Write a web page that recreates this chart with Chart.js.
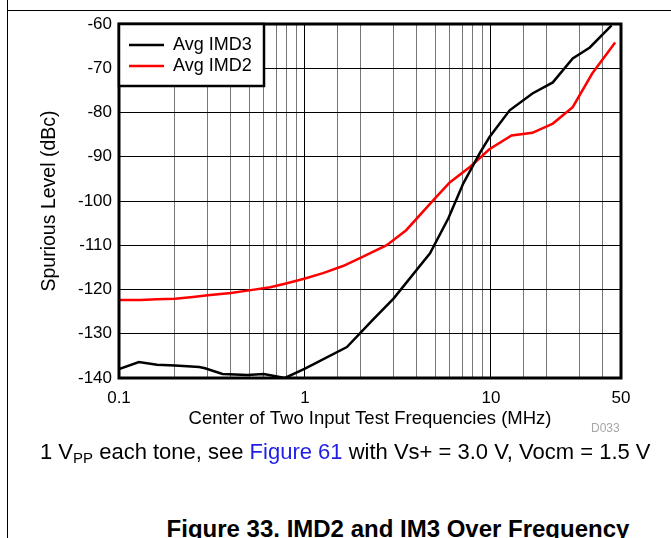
<!DOCTYPE html>
<html>
<head>
<meta charset="utf-8">
<script src="https://cdn.jsdelivr.net/npm/chart.js@4.4.0/dist/chart.umd.min.js"></script>
<style>
  body { margin: 0; background: #fff; font-family: Arial, "Liberation Sans", sans-serif; }
  #page { position: relative; width: 671px; height: 538px; overflow: hidden; }
  #frameLeft { position: absolute; left: 7px; top: 0; width: 1px; height: 538px; background: #000; }
  #frameTop { position: absolute; left: 7px; top: 10px; width: 664px; height: 1px; background: #000; }
  #chartBox { position: absolute; left: 0; top: 0; width: 671px; height: 440px; }
  #code { position: absolute; left: 591px; top: 421px; font-size: 12px; color: #a6a6a6; }
  #note { position: absolute; left: 40px; top: 439px; font-size: 22px; line-height: 26px; white-space: nowrap; }
  #note sub { font-size: 15px; vertical-align: -4px; line-height: 0; }
  #note .link { color: #1e1ee6; }
  #caption { position: absolute; left: 0; width: 796px; top: 517px; text-align: center; line-height: 24px;
             font-size: 24px; font-weight: bold; white-space: nowrap; }
</style>
</head>
<body>
<div id="page">
  <div id="frameLeft"></div>
  <div id="frameTop"></div>
  <div id="chartBox"><canvas id="imdChart"></canvas></div>
  <div id="code">D033</div>
  <div id="note">1 V<sub>PP</sub> each tone, see <span class="link">Figure 61</span> with Vs+ = 3.0 V, Vocm = 1.5 V</div>
  <div id="caption">Figure 33. IMD2 and IM3 Over Frequency</div>
</div>
<script>
// values (MHz, dBc)
const imd3Freq = [0.1, 0.128, 0.16, 0.2, 0.27, 0.29, 0.36, 0.49, 0.6, 0.78, 1.0, 1.68, 2.3, 3.0, 4.7, 5.9, 7.1, 8.7, 9.8, 12.6, 16.7, 21.5, 27.5, 34, 44.5];
const imd3 = [-138, -136.4, -137.0, -137.2, -137.5, -137.8, -139.1, -139.3, -139.1, -140, -137.9, -133, -127, -122, -111.8, -103.9, -96, -89.2, -85.6, -79.5, -75.7, -73.2, -67.8, -65.3, -60.3];

const imd2Freq = [0.1, 0.13, 0.16, 0.2, 0.25, 0.3, 0.4, 0.5, 0.65, 0.8, 1.0, 1.25, 1.6, 2.0, 2.75, 3.5, 4.9, 6.0, 7.7, 9.8, 12.9, 16.7, 21.5, 27.5, 35, 46.5];
const imd2 = [-122.4, -122.4, -122.2, -122.1, -121.7, -121.3, -120.8, -120.2, -119.5, -118.6, -117.5, -116.3, -114.7, -112.8, -110.0, -106.6, -99.8, -95.8, -92.3, -88.3, -85.2, -84.6, -82.5, -78.8, -71.2, -64.2];

const seriesNames = ['Avg IMD3', 'Avg IMD2'];
const seriesColors = ['#000000', '#ff0000'];
const xTickLabels = ['0.1', '1', '10', '50'];
const yRange = [-140, -60];
const yStep = 10;

function isDecade(v) {
    const l = Math.log10(v);
    return Math.abs(l - Math.round(l)) < 1e-6;
}

// box around the plot area
const framePlugin = {
    id: 'frame',
    afterDatasetsDraw(chart) {
        const a = chart.chartArea;
        const ctx = chart.ctx;
        ctx.save();
        ctx.strokeStyle = '#000';
        ctx.lineWidth = 3;
        ctx.strokeRect(a.left, a.top, a.right - a.left, a.bottom - a.top);
        ctx.restore();
    }
};

// legend box in the top left corner of the plot
const insideLegend = {
    id: 'insideLegend',
    afterDraw(chart) {
        const a = chart.chartArea;
        const ctx = chart.ctx;
        const w = 145, h = 62;
        ctx.save();
        ctx.fillStyle = '#fff';
        ctx.fillRect(a.left, a.top, w, h);
        ctx.strokeStyle = '#000';
        ctx.lineWidth = 2.5;
        ctx.strokeRect(a.left, a.top, w, h);
        ctx.font = '18px Arial, "Liberation Sans", sans-serif';
        ctx.textBaseline = 'middle';
        chart.data.datasets.forEach((ds, i) => {
            const y = a.top + 21 + i * 21;
            ctx.strokeStyle = ds.borderColor;
            ctx.lineWidth = 2.5;
            ctx.beginPath();
            ctx.moveTo(a.left + 10, y);
            ctx.lineTo(a.left + 45, y);
            ctx.stroke();
            ctx.fillStyle = '#000';
            ctx.fillText(ds.label, a.left + 54, y);
        });
        ctx.restore();
    }
};

function loadChart() {
    const ctx = document.getElementById('imdChart').getContext('2d');
    new Chart(ctx, {
        type: 'line',
        data: {
            datasets: [
                {
                    label: seriesNames[0],
                    data: imd3Freq.map((f, i) => ({ x: f, y: imd3[i] })),
                    borderColor: seriesColors[0],
                    borderWidth: 2.5
                },
                {
                    label: seriesNames[1],
                    data: imd2Freq.map((f, i) => ({ x: f, y: imd2[i] })),
                    borderColor: seriesColors[1],
                    borderWidth: 2.5
                }
            ]
        },
        options: {
            responsive: true,
            maintainAspectRatio: false,
            animation: false,
            events: [],
            elements: { point: { radius: 0 }, line: { tension: 0 } },
            layout: { padding: { left: 0, top: 24, right: 50, bottom: 0 } },
            plugins: { legend: { display: false }, tooltip: { enabled: false } },
            scales: {
                x: {
                    type: 'logarithmic',
                    min: 0.1,
                    max: 50,
                    border: { display: false },
                    grid: {
                        drawTicks: false,
                        lineWidth: 1,
                        color: c => (c.tick && isDecade(c.tick.value)) ? '#000' : '#777'
                    },
                    ticks: {
                        autoSkip: false,
                        maxRotation: 0,
                        padding: 10,
                        color: '#000',
                        font: { family: 'Arial, "Liberation Sans", sans-serif', size: 17 },
                        callback: v => {
                            const lbl = xTickLabels.find(t => Math.abs(Math.log10(+t) - Math.log10(v)) < 1e-6);
                            return lbl || '';
                        }
                    },
                    title: {
                        display: true,
                        text: 'Center of Two Input Test Frequencies (MHz)',
                        color: '#000',
                        font: { family: 'Arial, "Liberation Sans", sans-serif', size: 18.5 },
                        padding: { top: 0, bottom: 10 }
                    },
                    afterFit: s => { s.height = 62; }
                },
                y: {
                    min: yRange[0],
                    max: yRange[1],
                    border: { display: false },
                    grid: { drawTicks: false, lineWidth: 1, color: '#000' },
                    ticks: {
                        stepSize: yStep,
                        padding: 7,
                        color: '#000',
                        font: { family: 'Arial, "Liberation Sans", sans-serif', size: 17 }
                    },
                    title: {
                        display: true,
                        text: 'Spurious Level (dBc)',
                        color: '#000',
                        font: { family: 'Arial, "Liberation Sans", sans-serif', size: 19.5 },
                        padding: { top: 38, bottom: 0 }
                    },
                    afterFit: s => { s.width = 119; }
                }
            }
        },
        plugins: [framePlugin, insideLegend]
    });
}

document.addEventListener('DOMContentLoaded', loadChart);
</script>
</body>
</html>
